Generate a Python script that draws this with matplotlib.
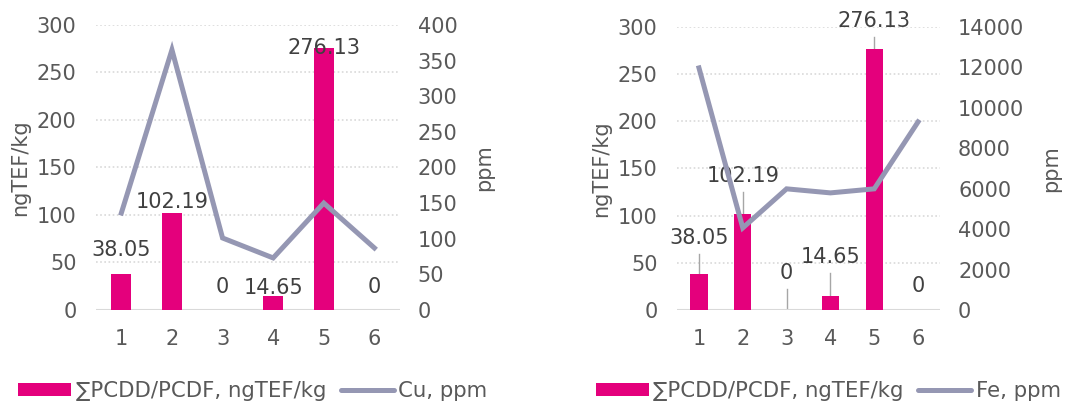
import matplotlib
matplotlib.use("Agg")
import matplotlib.pyplot as plt
from matplotlib.patches import Patch
from matplotlib.lines import Line2D
import numpy as np

samples = [1, 2, 3, 4, 5, 6]
pcdd = [38.05, 102.19, 0, 14.65, 276.13, 0]
pcdd_labels = ["38.05", "102.19", "0", "14.65", "276.13", "0"]
cu_ppm = [136, 365, 101, 73, 150, 87]
fe_ppm = [11970, 4060, 5990, 5790, 5990, 9300]

# where the data labels sit (left axis units)
lbl_y_cu = [63, 114, 24, 23, 276, 24]
lbl_y_fe = [76, 142, 39, 56, 306, 25]

BAR = "#E4007C"
LINE = "#9597B3"
TXT = "#595959"
LBL = "#404040"
GRID = "#D9D9D9"
FS = 15

plt.rcParams["font.family"] = ["DejaVu Sans"]

fig = plt.figure(figsize=(10.73, 4.01), dpi=100)


def panel(rect, values, ymax2, step2, lbl_y, leaders, legend_x, legend_name):
    ax = fig.add_axes(rect)
    ax2 = ax.twinx()
    x = np.array(samples)
    ax.bar(x, pcdd, width=0.39, color=BAR, zorder=2)
    ax2.plot(x, values, color=LINE, lw=3.6, solid_joinstyle="miter", zorder=3)

    for xi, v, ly, s in zip(x, pcdd, lbl_y, pcdd_labels):
        ax.text(xi, ly, s, ha="center", va="center", fontsize=FS, color=LBL, zorder=5)
        if leaders:
            top = ly - 17
            if top - v > 5 and xi != 6:
                ax.plot([xi, xi], [v, top], color="#A6A6A6", lw=1, zorder=1)

    ax.set_xlim(0.5, 6.5)
    ax.set_ylim(0, 300)
    ax.set_yticks(np.arange(0, 301, 50))
    ax2.set_ylim(0, ymax2)
    ax2.set_yticks(np.arange(0, ymax2 + 1, step2))
    ax.set_xticks(x)
    ax.grid(axis="y", color=GRID, ls=(0, (1, 1.5)), lw=1.2, zorder=0)
    ax.set_axisbelow(True)
    for a in (ax, ax2):
        for side in ("top", "left", "right", "bottom"):
            a.spines[side].set_visible(False)
        a.tick_params(length=0, labelsize=FS, colors=TXT)
    ax.axhline(0, color=GRID, lw=1.5, zorder=1)
    ax.tick_params(axis="y", pad=14)
    ax2.tick_params(axis="y", pad=13)
    ax.tick_params(axis="x", pad=14)
    ax.set_ylabel("ngTEF/kg", fontsize=FS, color=TXT, labelpad=5)
    ax2.set_ylabel("ppm", fontsize=FS, color=TXT, labelpad=12)

    handles = [
        Patch(facecolor=BAR, edgecolor="none"),
        Line2D([0], [0], color=LINE, lw=3.6, solid_capstyle="round"),
    ]
    fig.legend(handles, ["\u2211PCDD/PCDF, ngTEF/kg", legend_name],
               loc="center left", bbox_to_anchor=(legend_x, 0.025), ncol=2,
               frameon=False, fontsize=15.3, labelcolor=TXT,
               handlelength=2.5, handleheight=0.55, handletextpad=0.2,
               columnspacing=0.7, borderaxespad=0, borderpad=0)
    return ax, ax2


panel([0.0895, 0.227, 0.283, 0.711], cu_ppm, 400, 50, lbl_y_cu, False,
      0.017, "Cu, ppm")
panel([0.631, 0.227, 0.245, 0.706], fe_ppm, 14000, 2000, lbl_y_fe, True,
      0.555, "Fe, ppm")

fig.savefig("out.png", dpi=100)
